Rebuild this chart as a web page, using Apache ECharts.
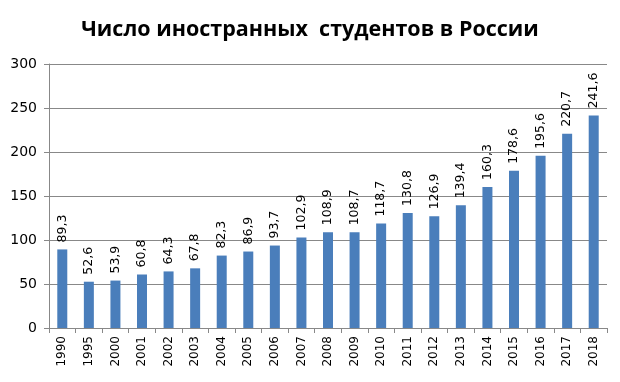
<!DOCTYPE html>
<html><head><meta charset="utf-8">
<script src="https://cdn.jsdelivr.net/npm/echarts@6/dist/echarts.min.js"></script>
<style>html,body{margin:0;padding:0;background:#fff}#c{width:620px;height:382px}</style>
</head><body><div id="c"></div>
<script>
const titleText = 'Число иностранных  студентов в России';
const years = ['1990','1995','2000','2001','2002','2003','2004','2005','2006','2007','2008','2009','2010','2011','2012','2013','2014','2015','2016','2017','2018'];
const students = [89.3,52.6,53.9,60.8,64.3,67.8,82.3,86.9,93.7,102.9,108.9,108.7,118.7,130.8,126.9,139.4,160.3,178.6,195.6,220.7,241.6];
const yTicks = [0,50,100,150,200,250,300];

const chart = echarts.init(document.getElementById('c'));
chart.setOption({
  animation: false,
  title: {
    text: titleText, left: 'center', top: 14,
    textStyle: {fontFamily: 'Open Sans', fontWeight: 'bold', fontSize: 21.5, color: '#000'}
  },
  grid: {left: 49, right: 13, top: 64, bottom: 54},
  xAxis: {
    type: 'category', data: years,
    axisLine: {lineStyle: {color: '#888', width: 1}},
    axisTick: {show: true, length: 5, lineStyle: {color: '#888'}},
    axisLabel: {rotate: 90, color: '#000', fontFamily: 'DejaVu Sans', fontSize: 12, margin: 8}
  },
  yAxis: {
    type: 'value', min: yTicks[0], max: yTicks[yTicks.length-1], interval: 50,
    axisLine: {show: true, lineStyle: {color: '#888'}},
    axisTick: {show: true, length: 5, lineStyle: {color: '#888'}},
    axisLabel: {color: '#000', fontFamily: 'DejaVu Sans', fontSize: 14, margin: 12},
    splitLine: {lineStyle: {color: '#888', width: 1}}
  },
  series: [{
    type: 'bar', data: students, barWidth: 10,
    itemStyle: {color: '#4A7EBB'},
    label: {
      show: true, position: 'top', rotate: 90, align: 'left', verticalAlign: 'middle',
      distance: 7, color: '#000', fontFamily: 'DejaVu Sans', fontSize: 12.5,
      formatter: p => String(p.value).replace('.', ',')
    }
  }]
});
</script></body></html>
